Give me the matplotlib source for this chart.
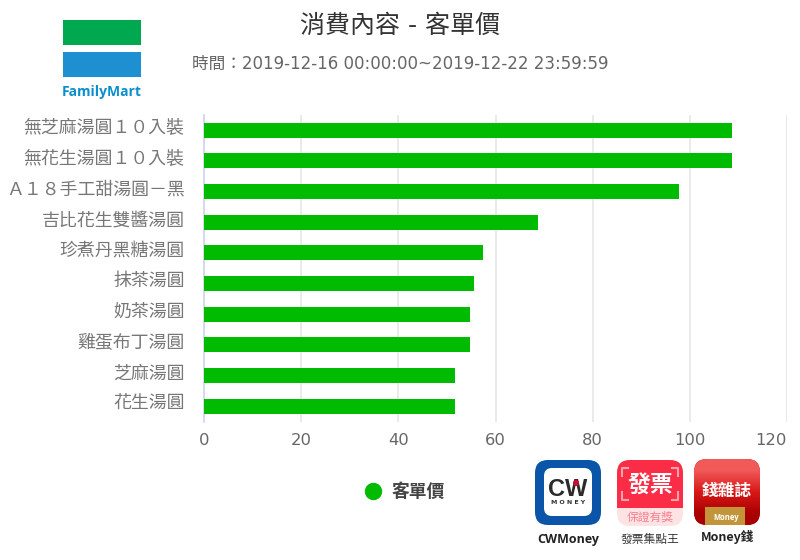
import matplotlib
matplotlib.use('Agg')
import matplotlib.pyplot as plt
from matplotlib.colors import to_rgb
from matplotlib.lines import Line2D
from matplotlib.patches import Rectangle, FancyBboxPatch
from matplotlib.transforms import ScaledTranslation

plt.rcParams['font.family'] = ['DejaVu Sans', 'Noto Sans CJK TC']

products = ['無芝麻湯圓１０入裝', '無花生湯圓１０入裝', 'Ａ１８手工甜湯圓－黑', '吉比花生雙醬湯圓',
            '珍煮丹黑糖湯圓', '抹茶湯圓', '奶茶湯圓', '雞蛋布丁湯圓', '芝麻湯圓', '花生湯圓']
unit_price = [108.7, 108.7, 97.7, 68.7, 57.4, 55.6, 54.7, 54.7, 51.6, 51.6]
x_ticks = [0, 20, 40, 60, 80, 100, 120]

GREEN = '#00bb00'
CJK = ['Noto Sans CJK TC', 'DejaVu Sans']
W, H = 800, 560


def box(px, x0, y0, x1, y1, color, radius=0, zorder=2):
    """Rounded box in pixel coordinates, for the logos."""
    if radius:
        patch = FancyBboxPatch((x0 + radius, y0 + radius), x1 - x0 - 2 * radius, y1 - y0 - 2 * radius,
                               boxstyle='round,pad=%f,rounding_size=%f' % (radius, radius),
                               fc=color, ec='none', zorder=zorder)
    else:
        patch = Rectangle((x0, y0), x1 - x0, y1 - y0, fc=color, ec='none', zorder=zorder)
    px.add_patch(patch)
    return patch


fig = plt.figure(figsize=(W / 100, H / 100), dpi=100)

# main chart, axes placed to match the pixels of the reference
ax = fig.add_axes([204 / W, 1 - 422 / H, (787 - 204) / W, (422 - 115) / H])
ax.barh(range(len(products)), unit_price, height=0.49, color=GREEN, zorder=3)
ax.set_ylim(9.52, -0.49)
ax.set_xlim(0, 120)
ax.set_xticks(x_ticks)
ax.set_yticks(range(len(products)))
ax.set_yticklabels(products, fontsize=12.9, color='#777777', family=CJK)
ax.tick_params(axis='x', length=0, labelsize=11.8, labelcolor='#666666', pad=8)
ax.tick_params(axis='y', length=0, pad=14)
ax.grid(axis='x', color='#e6e6e6', lw=1.2, zorder=0)
for name in ['top', 'right', 'bottom']:
    ax.spines[name].set_visible(False)
ax.spines['left'].set_color('#ccd6eb')
ax.spines['left'].set_linewidth(1.2)

# the labels sit a little above the bar centres
lift = ScaledTranslation(0, 4 / 100, fig.dpi_scale_trans)
for label in ax.get_yticklabels():
    label.set_transform(label.get_transform() + lift)

# last tick label stays inside the plot, as in the reference
ax.get_xticklabels()[-1].set_ha('right')

fig.text(400 / W, 1 - 26 / H, '消費內容 - 客單價', ha='center', va='center', fontsize=18, color='#333333')
fig.text(400 / W, 1 - 64 / H, '時間:2019-12-16 00:00:00~2019-12-22 23:59:59'.replace(':', '\uff1a', 1),
         ha='center', va='center', fontsize=12, color='#666666')

leg = ax.legend(handles=[Line2D([], [], ls='', marker='o', ms=11.5, color=GREEN, label='客單價')],
                loc='center', bbox_to_anchor=(400 / W, 1 - 492 / H), bbox_transform=fig.transFigure,
                frameon=False, handletextpad=0.0, prop={'family': CJK, 'size': 12.8, 'weight': 'bold'})
leg.get_texts()[0].set_color('#444444')

# logos and app icons drawn in pixel coordinates
px = fig.add_axes([0, 0, 1, 1])
px.patch.set_alpha(0)

# FamilyMart
box(px, 63, 20, 141, 45, '#00a94f')
box(px, 63, 52, 141, 77, '#1e90d2')
px.text(102, 92, 'FamilyMart', ha='center', va='center', fontsize=10, color='#0a8fce',
        fontweight='bold', family='Open Sans')

# CWMoney
box(px, 535, 460, 601, 525, '#0a55a8', radius=13)
box(px, 544, 468, 592, 516, '#ffffff', radius=8, zorder=3)
px.text(568, 489, 'CW', ha='center', va='center', fontsize=17, color='#2b2b2b', fontweight='bold',
        family='Liberation Sans', zorder=4)
px.text(568, 502, 'M O N E Y', ha='center', va='center', fontsize=4.5, color='#333333', fontweight='bold',
        zorder=4)
px.add_patch(plt.Circle((576, 483), 3, fc='#c8102e', ec='none', zorder=5))
px.text(568, 539, 'CWMoney', ha='center', va='center', fontsize=9, color='#222222', fontweight='bold',
        family='Open Sans')

# receipt app
box(px, 617, 460, 683, 526, '#fde3e3', radius=13)
box(px, 617, 460, 683, 508, '#fb2c45', radius=13, zorder=3)
box(px, 617, 490, 683, 508, '#fb2c45', zorder=3)
for xs, ys in [((628, 622, 622), (468, 468, 476)), ((672, 678, 678), (468, 468, 476)),
               ((622, 622, 628), (492, 500, 500)), ((678, 678, 672), (492, 500, 500))]:
    px.plot(xs, ys, color='#fca3ae', lw=1.5, zorder=4)
px.text(650, 485, '發票', ha='center', va='center', fontsize=16.5, color='#ffffff', fontweight='bold',
        family=CJK, zorder=5)
px.text(650, 517, '保證有獎', ha='center', va='center', fontsize=8.5, color='#f77f8d', family=CJK, zorder=4)
px.text(650, 539, '發票集點王', ha='center', va='center', fontsize=8.5, color='#333333', family=CJK)

# money magazine app, red fading downwards
shape = box(px, 694, 459, 760, 525, '#c40d0d', radius=13)
fade = [[to_rgb('#f25a5a')], [to_rgb('#d81818')], [to_rgb('#a80000')]]
img = px.imshow(fade, extent=(694, 760, 525, 459), aspect='auto', interpolation='bilinear', zorder=2.5)
img.set_clip_path(shape)
box(px, 705, 507, 745, 525, '#c2953a', zorder=3)
px.text(727, 491, '錢雜誌', ha='center', va='center', fontsize=12, color='#ffffff', fontweight='bold',
        family=CJK, zorder=4)
px.text(726, 517, 'Money', ha='center', va='center', fontsize=5.5, color='#ffffff', fontweight='bold',
        family='Open Sans', zorder=4)
px.text(727, 537, 'Money錢', ha='center', va='center', fontsize=9, color='#222222', fontweight='bold',
        family=CJK)

px.set_xlim(0, W)
px.set_ylim(H, 0)
px.axis('off')

fig.savefig('out.png', dpi=100)
